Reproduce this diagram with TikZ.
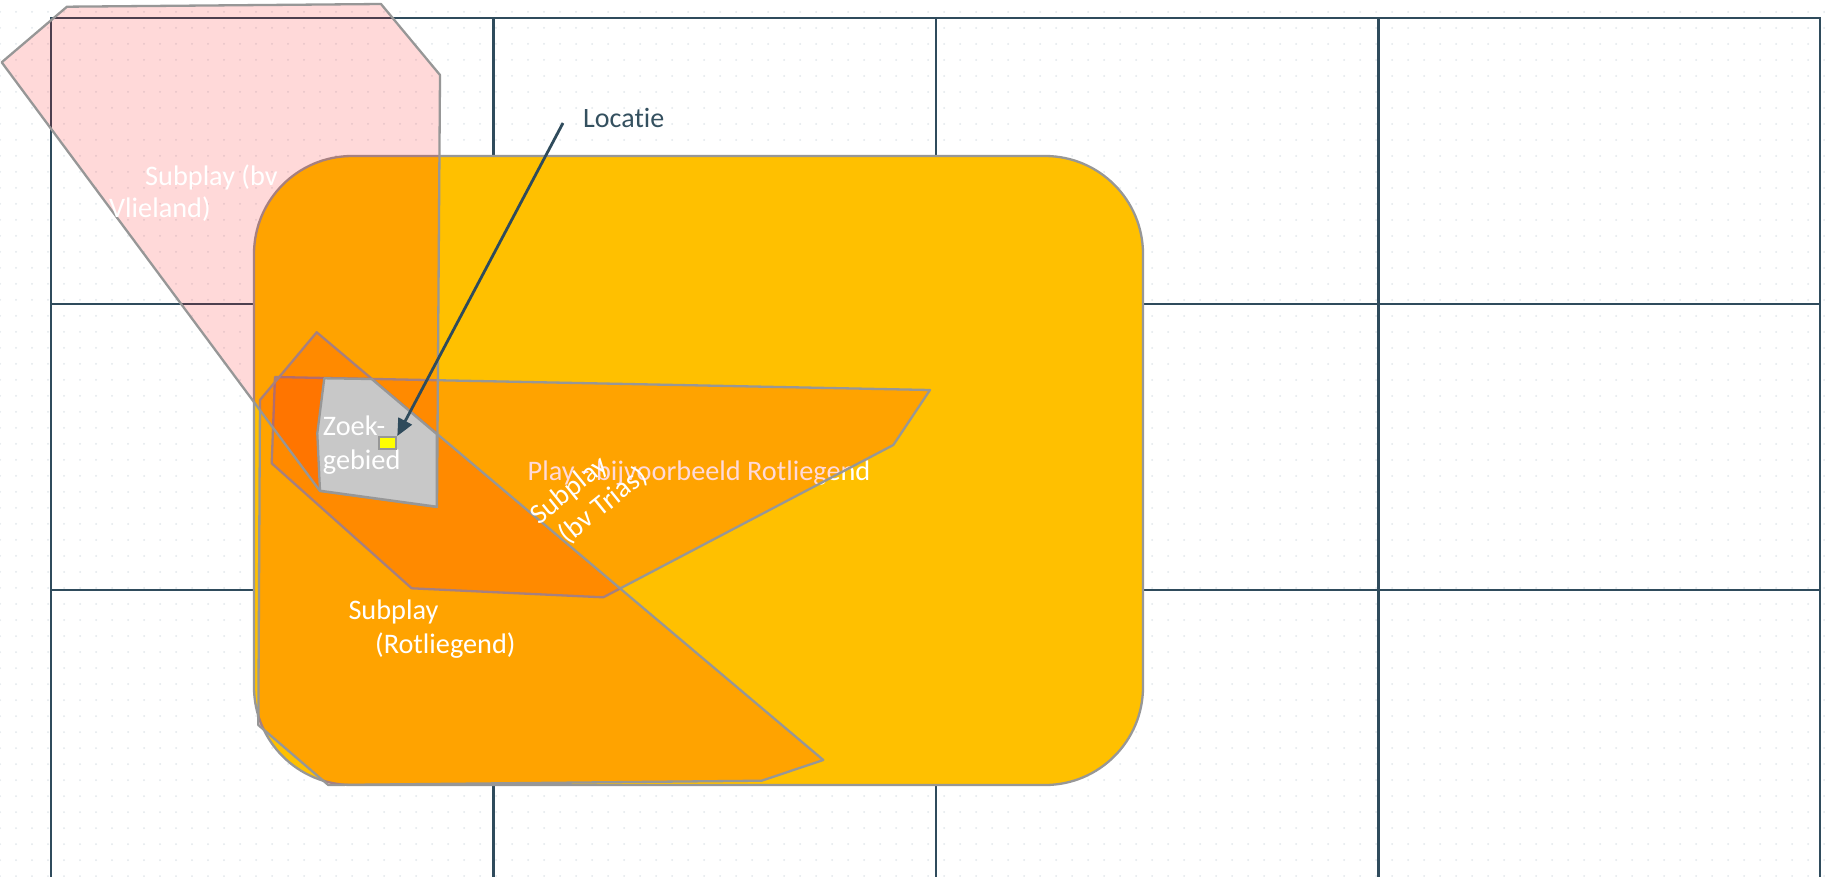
\documentclass[tikz,border=0pt]{standalone}
\usepackage{fontspec}
\setmainfont{Carlito}[Ligatures=NoCommon]
\usetikzlibrary{arrows.meta,patterns.meta,calc}
\definecolor{gridc}{HTML}{2F4B5C}
\definecolor{edgec}{HTML}{979797}
\definecolor{goldc}{HTML}{FFC000}
\definecolor{zoekc}{HTML}{C8C8C8}
\definecolor{dotc}{HTML}{E2E7EB}
\definecolor{locc}{HTML}{34505F}
\definecolor{yelc}{HTML}{FFFF00}
\begin{document}
\begin{tikzpicture}[x=1pt,y=-1pt,
  gridline/.style={draw=gridc,line width=2.5pt},
  region/.style={draw=edgec,line width=2.3pt,line join=round,fill=red,fill opacity=0.15},
  zoekregion/.style={draw=edgec,line width=2.3pt,line join=round,fill=zoekc},
  lbl/.style={text=white,font=\fontsize{28.3}{33}\selectfont,inner sep=0pt},
  locarrow/.style={draw=gridc,line width=2.8pt,-{Triangle[length=17pt,width=15pt]}}]
\useasboundingbox (0,0) rectangle (1825,876);
\fill[white] (0,0) rectangle (1825,876);
\fill[pattern={Dots[distance=16pt,radius=1pt]},pattern color=dotc] (0,0) rectangle (1825,876);
% grid
\foreach \gx in {51,493.5,936,1378.5,1820} \draw[gridline] (\gx,18) -- (\gx,880);
\foreach \gy in {18,304,590} \draw[gridline,line cap=rect] (51,\gy) -- (1820,\gy);
% play rounded rectangle
\draw[draw=edgec,line width=2.3pt,fill=goldc,rounded corners=98pt] (254,156) rectangle (1143,785);
\node[lbl,anchor=base] (playlbl) at (699,480) {Play - bijvoorbeeld Rotliegend};
% subplay Trias
\path[region] (275,377) -- (930,390) -- (893.3,445) -- (603.3,597.3) -- (411.7,588.3) -- (271.7,463.3) -- cycle;
% subplay Rotliegend
\path[region] (316.7,332.3) -- (823.3,760) -- (761.7,780.7) -- (328.3,785) -- (258.3,725) -- (260,400) -- cycle;
% subplay Vlieland
\path[region] (1.7,62.3) -- (67,6.7) -- (381,4) -- (440,75) -- (437,507) -- (320,491) -- cycle;
% zoekgebied
\path[zoekregion] (324.3,378.3) -- (371.7,379) -- (436.7,434) -- (436.7,506.7) -- (320,490.7) -- (317.3,433.3) -- cycle;
% labels
\node[lbl,anchor=base west] (vlie1) at (145,185) {Subplay (bv};
\node[lbl,anchor=base west] (vlie2) at (109,217) {Vlieland)};
\node[lbl,anchor=base west] (zoek1) at (322.7,435) {Zoek-};
\node[lbl,anchor=base west] (zoek2) at (322.7,469) {gebied};
\node[lbl,anchor=base west] (rot1) at (348.3,619) {Subplay};
\node[lbl,anchor=base west] (rot2) at (375,653) {(Rotliegend)};
\node[lbl,align=left,rotate=39,anchor=center] (trias) at (589,496) {Subplay\\\hspace*{10pt}(bv Trias)};
% location
\node[draw=edgec,line width=2pt,fill=yelc,minimum width=17pt,minimum height=12pt,inner sep=0pt,anchor=north west] (yel) at (378.3,436) {};
\node[text=locc,font=\fontsize{28}{33}\selectfont,inner sep=0pt,anchor=base west] (loc) at (583,127) {Locatie};
\coordinate (locstart) at ($(loc.base west)+(-20,-4)$);
\draw[locarrow] (locstart) -- (yel.north east);
\end{tikzpicture}
\end{document}
